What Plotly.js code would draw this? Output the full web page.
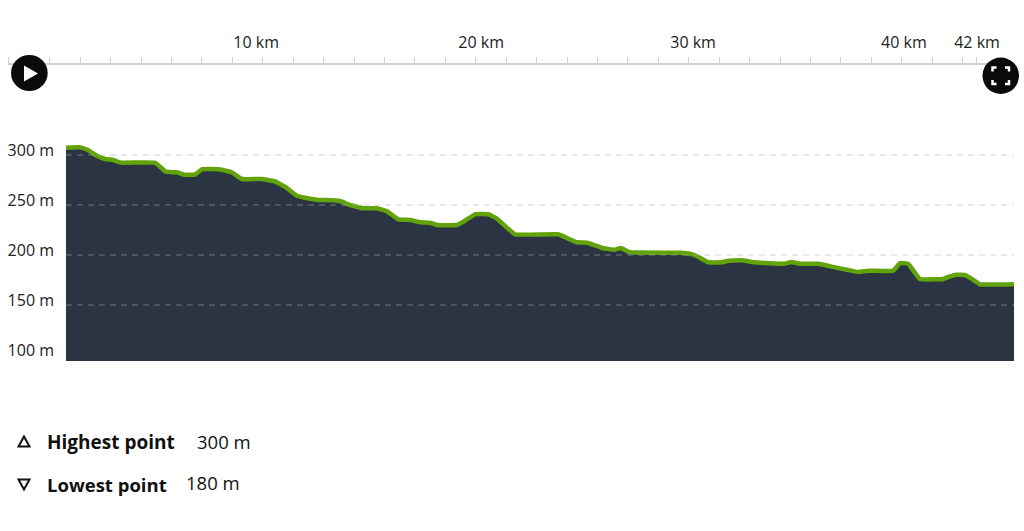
<!DOCTYPE html>
<html><head><meta charset="utf-8">
<script src="https://cdn.plot.ly/plotly-3.0.1.min.js"></script>
<style>html,body{margin:0;padding:0;background:#fff}#c{width:1024px;height:531px}</style>
</head><body><div id="c"></div>
<script>
const distanceKm = [0,0.62,0.98,1.37,1.74,2.09,2.48,3.96,4.44,4.93,5.25,5.74,6.05,6.81,7.38,7.83,8.71,9.26,9.75,10.27,10.64,11.16,12.2,12.64,13.23,13.83,14.27,14.79,15.34,15.76,16.2,16.5,17.39,17.76,18.2,18.8,19.17,19.98,21.91,22.73,23.2,23.91,24.44,24.7,25.1,27.33,27.77,28.07,28.59,29.18,29.48,30.07,30.52,31.33,32,32.3,32.67,33.48,34.3,34.82,35.26,35.71,36.82,37.12,37.49,38.01,39.05,39.27,39.64,40.01,40.31,40.68,42.2];
const elevationM = [307.3,307.7,305,299.3,296,295,292.3,292.3,283.3,282.7,280.3,280.3,285.7,285.7,282.7,276,276,274,268.3,259.3,257.3,255.3,254,250,246.7,246.7,244,235.7,235,232.7,232.3,230,230,234.3,240.7,240.7,236.7,220.7,220.7,212.7,212.3,206.7,205.3,207,202.7,202.3,201.3,199,192.7,192.7,194.3,194.7,193,191.7,191.3,193,191.3,191.3,187.3,185,183,184.3,184.3,192,191.3,176,176,178,180.3,180,176.3,170.7,170.7];
const yTicks = [100,150,200,250,300];
const yTickText = ['100 m','150 m','200 m','250 m','300 m'];
const gridValues = [150,200,250,300];
const rulerTicks = [-1.96,-1.43,0,1.43,2.86,4.29,5.71,7.14,8.57,10,11.43,12.86,14.29,15.71,17.14,18.57,20,21.43,22.86,24.29,25.71,27.14,28.57,30,31.43,32.86,34.29,35.71,37.14,38.57,40,41.43,42.86,43.52];
const rulerLabelPos = [9.69,20.25,30.2,40.1,43.53];
const rulerLabels = ['10 km','20 km','30 km','40 km','42 km'];
const highest = 300, lowest = 180;

const W=1024,H=531;
const px=x=>x/W, py=y=>1-y/H;
const P=(pts,close)=>pts.map((p,i)=>(i?'L':'M')+px(p[0]).toFixed(5)+','+py(p[1]).toFixed(5)).join(' ')+(close?' Z':'');
const FONT='"Open Sans","Noto Sans",sans-serif';

const shapes=[];
gridValues.forEach(v=>shapes.push({type:'line',xref:'paper',yref:'y',x0:px(66),x1:px(1014),y0:v,y1:v,layer:'above',
  line:{color:'rgba(175,175,175,0.55)',width:1,dash:'6px,5px'}}));
// play button
shapes.push({type:'circle',xref:'paper',yref:'paper',x0:px(11),x1:px(47.7),y0:py(91),y1:py(55),fillcolor:'#0a0a0a',line:{width:0}});
shapes.push({type:'path',xref:'paper',yref:'paper',path:P([[24,65.5],[24,81.5],[38,73.5]],true),fillcolor:'#fff',line:{width:0}});
// fullscreen button
shapes.push({type:'circle',xref:'paper',yref:'paper',x0:px(982.5),x1:px(1019),y0:py(94),y1:py(57.5),fillcolor:'#0a0a0a',line:{width:0}});
[[[992.5,71.5],[992.5,67.5],[996.5,67.5]],[[1005,67.5],[1009,67.5],[1009,71.5]],[[992.5,80],[992.5,84],[996.5,84]],[[1005,84],[1009,84],[1009,80]]]
 .forEach(p=>shapes.push({type:'path',xref:'paper',yref:'paper',path:P(p),line:{color:'#fff',width:2.5}}));
// summary icons
shapes.push({type:'path',xref:'paper',yref:'paper',path:P([[24,436.5],[18.5,446.5],[29.5,446.5]],true),line:{color:'#111',width:2}});
shapes.push({type:'path',xref:'paper',yref:'paper',path:P([[24,489.5],[18.5,479.5],[29.5,479.5]],true),line:{color:'#111',width:2}});

const ann=(x,y,t,size)=>({xref:'paper',yref:'paper',x:px(x),y:py(y),xanchor:'left',yanchor:'middle',showarrow:false,text:t,font:{family:FONT,size:size,color:'#111'}});

const layout={
  width:W,height:H,margin:{l:0,r:0,t:0,b:0},paper_bgcolor:'#fff',plot_bgcolor:'rgba(0,0,0,0)',showlegend:false,
  font:{family:FONT,size:16,color:'#222'},
  xaxis:{domain:[px(66),px(1014)],range:[0,42.2],visible:false,fixedrange:true},
  yaxis:{domain:[py(361),py(125)],range:[94,330],tickvals:yTicks,ticktext:yTickText,showgrid:false,zeroline:false,showline:false,ticks:'',
    ticklabelstandoff:11,ticklabelshift:-5,tickfont:{family:FONT,size:16,color:'#222'},fixedrange:true},
  xaxis2:{domain:[px(8),px(990)],range:[-1.96,44.14],anchor:'free',position:py(63),side:'top',showgrid:false,zeroline:false,
    showline:true,linecolor:'#cfcfcf',linewidth:1.5,ticks:'outside',ticklen:6,tickwidth:1,tickcolor:'#cfcfcf',tickvals:rulerTicks,showticklabels:false,fixedrange:true},
  xaxis3:{domain:[px(8),px(990)],range:[-1.96,44.14],anchor:'free',position:py(63),side:'top',showgrid:false,zeroline:false,
    showline:false,ticks:'',tickvals:rulerLabelPos,ticktext:rulerLabels,ticklabelstandoff:12,tickfont:{family:FONT,size:16,color:'#222'},tickangle:0,fixedrange:true},
  shapes:shapes,
  annotations:[
    ann(45,442,'<b>Highest point</b>',19),ann(195,441,highest+' m',18.5),
    ann(45,484,'<b>Lowest point</b>',18.5),ann(184,483,lowest+' m',18.5)
  ]
};
const traces=[
 {type:'scatter',mode:'lines',x:distanceKm,y:elevationM,xaxis:'x',yaxis:'y',fill:'tozeroy',fillcolor:'#2a3443',
  line:{color:'#62a30c',width:4.5,shape:'spline',smoothing:0.25},hoverinfo:'skip'},
 {type:'scatter',mode:'none',x:rulerTicks,y:rulerTicks.map(()=>null),xaxis:'x2',yaxis:'y',hoverinfo:'skip'},
 {type:'scatter',mode:'none',x:rulerLabelPos,y:rulerLabelPos.map(()=>null),xaxis:'x3',yaxis:'y',hoverinfo:'skip'}
];
Plotly.newPlot('c',traces,layout,{displayModeBar:false,staticPlot:true});
</script></body></html>
